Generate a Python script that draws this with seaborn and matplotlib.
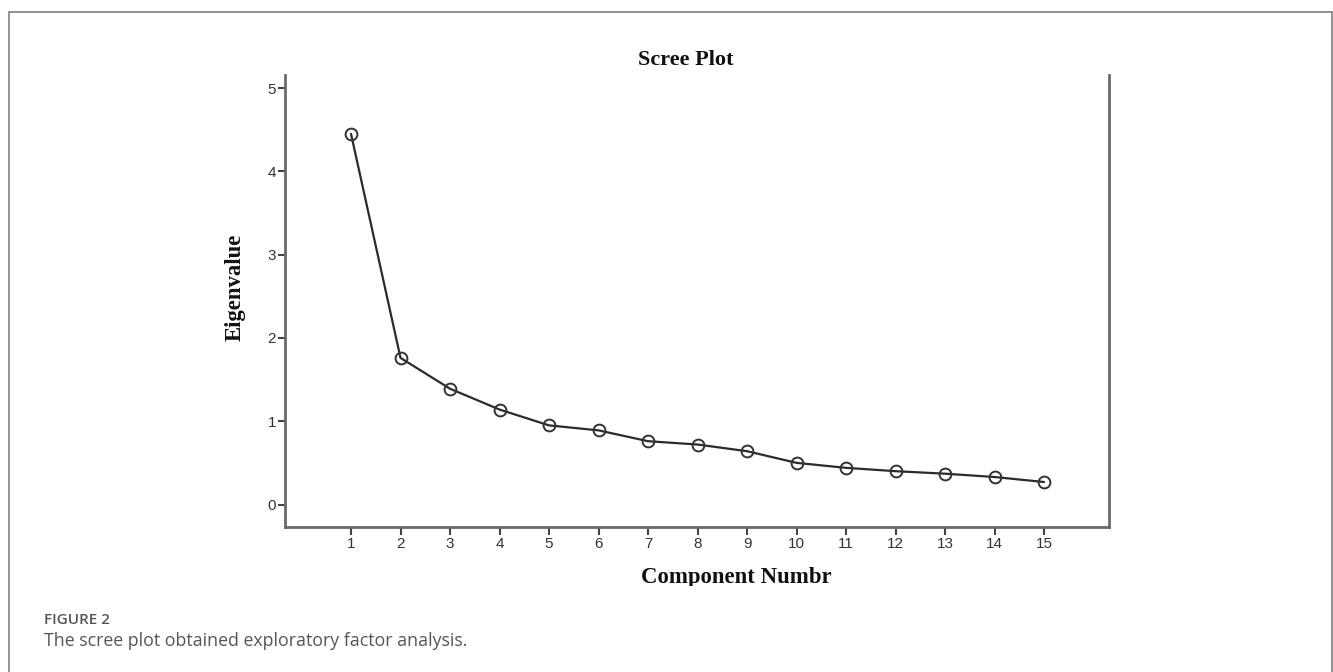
import matplotlib
matplotlib.use("Agg")
import matplotlib.pyplot as plt
import seaborn as sns
import pandas as pd
from matplotlib.patches import Rectangle
from matplotlib.transforms import Bbox

components = list(range(1, 16))
eigenvalues = [4.45, 1.76, 1.39, 1.14, 0.95, 0.89, 0.76, 0.72, 0.64,
               0.50, 0.44, 0.40, 0.37, 0.33, 0.27]
y_ticks = [0, 1, 2, 3, 4, 5]

sns.set_theme(style="white")
plt.rcParams['font.family'] = ['Liberation Sans', 'DejaVu Sans']

W, H = 1333, 672
fig = plt.figure(figsize=(W / 100, H / 100), dpi=100)
fig.patch.set_facecolor("white")

# outer frame
fig.patches.append(Rectangle((9 / W, -0.05), (1332 - 9) / W, (H - 12) / H + 0.05,
                             transform=fig.transFigure, fill=False,
                             edgecolor="#808080", linewidth=1.2))

ax = fig.add_axes([285 / W, (H - 527) / H, (1109 - 285) / W, (527 - 75) / H])
df = pd.DataFrame({"Component": components, "Eigenvalue": eigenvalues})
sns.lineplot(data=df, x="Component", y="Eigenvalue", ax=ax, color="#2b2b2b",
             linewidth=1.6, marker="o", markersize=8.5, markerfacecolor="none",
             markeredgecolor="#333", markeredgewidth=1.4)

ax.set_xlim(1 - 66 / 49.5, 1 + 758 / 49.5)
ax.set_ylim(-22.5 / 83.3, 429.5 / 83.3)
ax.set_xticks(components)
ax.set_yticks(y_ticks)
ax.set_xlabel("")
ax.set_ylabel("")
ax.tick_params(axis="x", direction="out", length=6, width=1.5, color="#444",
               labelsize=11, labelcolor="#333", pad=1.5, bottom=True)
ax.tick_params(axis="y", direction="out", length=5, width=1.5, color="#444",
               labelsize=11, labelcolor="#333", pad=1.5, left=True)
for side in ["left", "bottom", "right"]:
    ax.spines[side].set_visible(True)
    ax.spines[side].set_color("#6a6a6a")
    ax.spines[side].set_linewidth(2.0)
ax.spines["top"].set_visible(False)
ax.grid(False)

serif = ['Liberation Serif', 'DejaVu Serif']
fig.text(686 / W, 1 - 60 / H, "Scree Plot", ha="center", va="center",
         family=serif, fontweight="bold", fontsize=16, color="#111")
xl = fig.text(736 / W, 1 - 578 / H, "Component Numbr", ha="center", va="center",
              family=serif, fontweight="bold", fontsize=16.4, color="#111")
xl.set_clip_box(Bbox.from_extents(0, H - 586, W, H))
xl.set_clip_on(True)
fig.text(235 / W, 1 - 287 / H, "Eigenvalue", ha="center", va="center",
         rotation=90, family=serif, fontweight="bold", fontsize=16.4, color="#111")

sans = ['Open Sans', 'DejaVu Sans']
fig.text(44 / W, 1 - 620 / H, "FIGURE 2", ha="left", va="center",
         family=sans, fontsize=11, fontweight="semibold", color="#555")
fig.text(44 / W, 1 - 641 / H, "The scree plot obtained exploratory factor analysis.",
         ha="left", va="center", family=sans, fontsize=12.8, color="#555")

fig.savefig("out.png", dpi=100, facecolor="white")
